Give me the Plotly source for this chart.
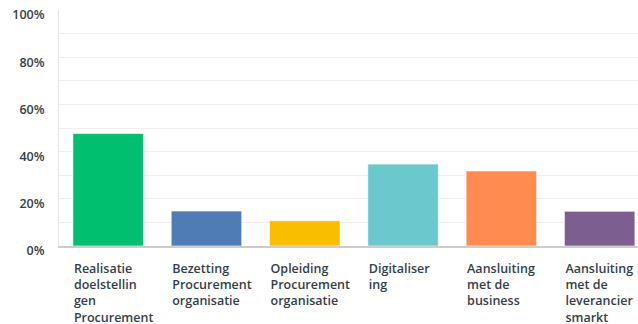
import plotly.graph_objects as go

categories = [
    "Realisatie doelstellingen Procurement",
    "Bezetting Procurement organisatie",
    "Opleiding Procurement organisatie",
    "Digitalisering",
    "Aansluiting met de business",
    "Aansluiting met de leveranciersmarkt",
]
tick_labels = [
    "Realisatie<br>doelstellin<br>gen<br>Procurement",
    "Bezetting<br>Procurement<br>organisatie",
    "Opleiding<br>Procurement<br>organisatie",
    "Digitaliser<br>ing",
    "Aansluiting<br>met de<br>business",
    "Aansluiting<br>met de<br>leverancier<br>smarkt",
]
values = [0.477, 0.148, 0.107, 0.347, 0.318, 0.147]
colors = ["#00BF6F", "#507CB6", "#F9BE00", "#6BC8CD", "#FF8B4F", "#7D5E90"]

fig = go.Figure(
    go.Bar(
        x=categories,
        y=values,
        marker=dict(color=colors, line=dict(color="rgba(255,255,255,0.6)", width=1)),
        hovertemplate="%{x}: %{y:.1%}<extra></extra>",
    )
)

fig.update_layout(
    width=638,
    height=324,
    margin=dict(l=59, r=0, t=10, b=78),
    paper_bgcolor="white",
    plot_bgcolor="white",
    bargap=0.283,
    showlegend=False,
    font=dict(family="Open Sans", size=12.5, color="#333E48", weight=600),
)
fig.update_xaxes(
    range=[-0.5, 5.39],
    tickmode="array",
    tickvals=categories,
    ticktext=tick_labels,
    ticks="",
    showline=True,
    linecolor="#CCCCCC",
    linewidth=1.5,
    ticklabelposition="outside right",
    ticklabelshift=-35,
    ticklabelstandoff=10,
    showgrid=False,
    automargin=False,
)
fig.update_yaxes(
    range=[0, 1],
    dtick=0.2,
    tickformat=".0%",
    ticks="",
    showline=True,
    linecolor="#E3E3E3",
    linewidth=1,
    gridcolor="#EEEEEE",
    gridwidth=1,
    minor=dict(dtick=0.1, showgrid=True, gridcolor="#EEEEEE", gridwidth=1),
    zeroline=False,
    ticklabelstandoff=11,
    ticklabelshift=5,
    ticklabeloverflow="allow",
    automargin=False,
)

fig.write_html("out.html")
